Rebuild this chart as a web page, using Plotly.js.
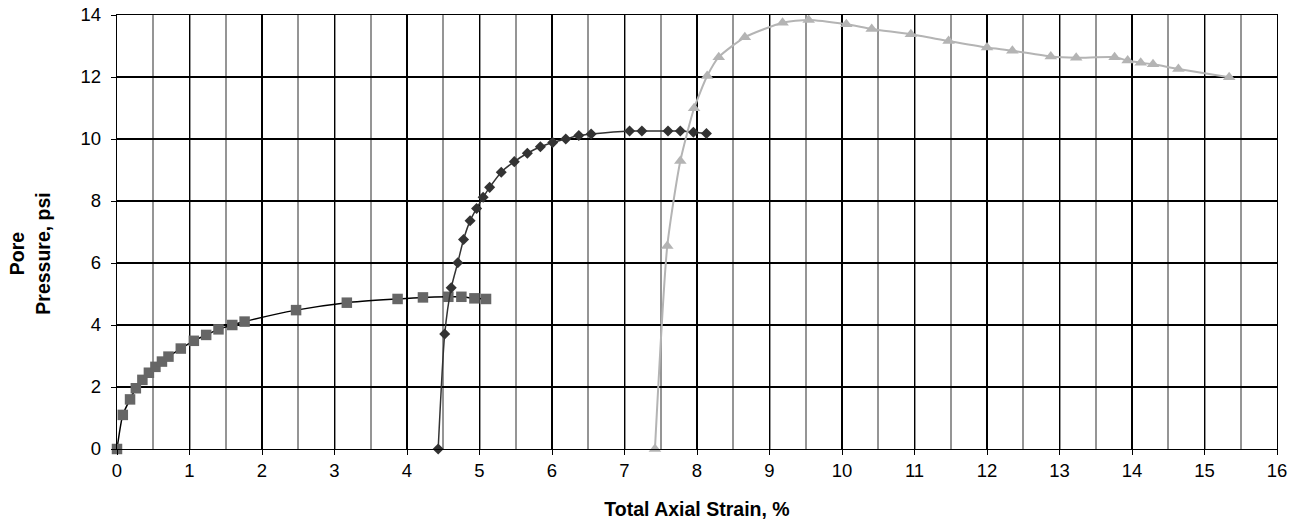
<!DOCTYPE html>
<html>
<head>
<meta charset="utf-8">
<script src="https://cdn.plot.ly/plotly-3.0.1.min.js"></script>
<style>html,body{margin:0;padding:0;background:#fff;}#chart{width:1301px;height:529px;}</style>
</head>
<body>
<div id="chart"></div>
<script>
// Series 1 (squares)
var sqX = [0, 0.08, 0.18, 0.26, 0.35, 0.44, 0.53, 0.62, 0.71, 0.88, 1.06, 1.23, 1.40, 1.59, 1.76, 2.47, 3.17, 3.87, 4.22, 4.57, 4.75, 4.93, 5.09];
var sqY = [0, 1.10, 1.60, 1.96, 2.23, 2.46, 2.65, 2.82, 2.98, 3.24, 3.49, 3.68, 3.86, 4.00, 4.11, 4.48, 4.72, 4.84, 4.89, 4.91, 4.91, 4.86, 4.84];
// Series 2 (diamonds)
var dmX = [4.43, 4.52, 4.61, 4.70, 4.78, 4.87, 4.96, 5.05, 5.14, 5.30, 5.48, 5.66, 5.84, 6.01, 6.19, 6.37, 6.54, 7.07, 7.24, 7.60, 7.77, 7.95, 8.13];
var dmY = [0, 3.71, 5.20, 6.01, 6.76, 7.36, 7.76, 8.12, 8.44, 8.93, 9.27, 9.54, 9.75, 9.89, 10.00, 10.11, 10.16, 10.26, 10.26, 10.26, 10.26, 10.22, 10.18];
// Series 3 (triangles)
var trX = [7.42, 7.59, 7.77, 7.96, 8.14, 8.30, 8.66, 9.18, 9.54, 10.06, 10.41, 10.95, 11.47, 12.00, 12.35, 12.88, 13.23, 13.76, 13.94, 14.12, 14.29, 14.64, 15.34];
var trY = [0, 6.55, 9.29, 10.99, 12.03, 12.64, 13.28, 13.75, 13.84, 13.70, 13.55, 13.38, 13.16, 12.95, 12.85, 12.66, 12.62, 12.64, 12.53, 12.46, 12.41, 12.26, 11.99];

var xTicks = [0,1,2,3,4,5,6,7,8,9,10,11,12,13,14,15,16];
var yTicks = [0,2,4,6,8,10,12,14];
var xTitle = 'Total Axial Strain, %';
var yTitle = 'Pore<br>Pressure, psi';

var traces = [
  {x: sqX, y: sqY, type: 'scatter', mode: 'lines+markers', cliponaxis: false,
   line: {color: '#000000', width: 1.5, shape: 'spline', smoothing: 0.6},
   marker: {symbol: 'square', size: 10.5, color: '#666666'}},
  {x: dmX, y: dmY, type: 'scatter', mode: 'lines+markers', cliponaxis: false,
   line: {color: '#333333', width: 1.5, shape: 'spline', smoothing: 0.6},
   marker: {symbol: 'diamond', size: 8.5, color: '#333333'}},
  {x: trX, y: trY, type: 'scatter', mode: 'lines+markers', cliponaxis: false,
   line: {color: '#b4b4b4', width: 2, shape: 'spline', smoothing: 0.6},
   marker: {symbol: 'triangle-up', size: 11, color: '#b4b4b4'}}
];

var layout = {
  width: 1301, height: 529,
  margin: {l: 117, r: 24, t: 15, b: 80},
  paper_bgcolor: '#ffffff', plot_bgcolor: '#ffffff',
  showlegend: false,
  font: {family: 'Liberation Sans, Arial, sans-serif', size: 18, color: '#000'},
  xaxis: {
    range: [0, 16], tickvals: xTicks, ticktext: xTicks.map(String),
    tickfont: {size: 18.5},
    showgrid: true, gridcolor: '#000000', gridwidth: 1.8,
    showline: true, linecolor: '#000000', linewidth: 1.2, mirror: true,
    ticks: 'outside', ticklen: 5, tickcolor: '#000', tickwidth: 1,
    zeroline: false,
    minor: {dtick: 0.5, tick0: 0.5, showgrid: true, gridcolor: '#959595', gridwidth: 2, ticks: ''},
    title: {text: '<b>' + xTitle + '</b>', font: {size: 19.5}, standoff: 22},
    automargin: false
  },
  yaxis: {
    range: [0, 14], tickvals: yTicks, ticktext: yTicks.map(String),
    tickfont: {size: 18.5}, ticklabelstandoff: 6,
    showgrid: true, gridcolor: '#000000', gridwidth: 1.8,
    showline: true, linecolor: '#000000', linewidth: 1.2, mirror: true,
    ticks: 'outside', ticklen: 5, tickcolor: '#000', tickwidth: 1,
    zeroline: false,
    automargin: false
  },
  annotations: [{
    text: '<b>' + yTitle + '</b>', textangle: -90,
    xref: 'paper', yref: 'paper', x: -0.075, y: 0.45,
    xanchor: 'center', yanchor: 'middle', showarrow: false,
    font: {size: 19.5, color: '#000'}
  }]
};

Plotly.newPlot('chart', traces, layout, {displayModeBar: false, staticPlot: true});
</script>
</body>
</html>
